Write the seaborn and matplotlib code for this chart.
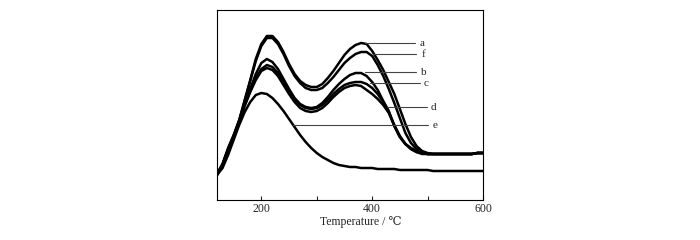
import matplotlib
matplotlib.use("Agg")
import matplotlib.pyplot as plt
import seaborn as sns
import pandas as pd
from matplotlib.ticker import MultipleLocator

# temperature grid (deg C) and signal (arbitrary units)
temps = list(range(120, 610, 10))

curve_a = [26, 36, 52, 65, 80, 100, 120, 141, 156, 164,
           164, 158, 148, 136, 126, 119, 115, 113, 113, 116,
           122, 129, 137, 145, 151, 155, 157, 156, 149, 140,
           130, 118, 106, 91, 76, 63, 54, 49, 47, 46,
           46, 46, 46, 46, 46, 46, 46, 47, 47]
curve_f = [26, 36, 51, 64, 79, 99, 119, 139, 154, 162,
           162, 156, 146, 134, 124, 117, 112, 110, 110, 112,
           117, 123, 130, 137, 142, 146, 148, 148, 144, 135,
           124, 111, 97, 82, 67, 57, 51, 48, 46, 46,
           46, 46, 46, 46, 46, 46, 46, 47, 47]
curve_b = [25, 35, 50, 63, 79, 96, 111, 126, 137, 141,
           138, 131, 121, 111, 102, 96, 93, 92, 93, 97,
           103, 110, 116, 121, 125, 127, 127, 124, 118, 110,
           99, 89, 74, 63, 56, 52, 49, 47, 46, 46,
           46, 46, 46, 46, 46, 46, 46, 47, 47]
curve_c = [25, 35, 50, 63, 79, 95, 109, 122, 131, 135,
           133, 127, 118, 109, 101, 95, 92, 91, 92, 95,
           100, 106, 111, 115, 117, 118, 118, 116, 112, 106,
           98, 88, 74, 63, 56, 51, 48, 47, 46, 46,
           46, 46, 46, 46, 46, 46, 46, 47, 47]
curve_d = [25, 35, 50, 63, 78, 94, 108, 120, 129, 132,
           130, 124, 115, 106, 98, 92, 89, 88, 89, 92,
           97, 103, 108, 112, 114, 115, 114, 110, 106, 101,
           95, 87, 75, 64, 56, 51, 48, 46, 46, 46,
           46, 46, 46, 46, 46, 46, 46, 47, 47]
curve_e = [25, 32, 45, 60, 75, 88, 98, 105, 107, 106,
           102, 96, 89, 81, 73, 65, 58, 52, 47, 43,
           40, 37, 35, 34, 33, 33, 32, 32, 32, 31,
           31, 31, 31, 30, 30, 30, 30, 30, 30, 29,
           29, 29, 29, 29, 29, 29, 29, 29, 29]

# leader lines: label, y level, start T, end T, label T
labels = ["a", "f", "b", "c", "d", "e"]
label_y = [157, 146, 128, 117, 93, 75]
line_start = [387, 402, 387, 396, 427, 258]
line_end = [477, 480, 479, 486, 499, 501]
label_x = [486, 489, 489, 493, 505, 509]

curves = {"a": curve_a, "f": curve_f, "b": curve_b,
          "c": curve_c, "d": curve_d, "e": curve_e}

if __name__ == "__main__":
    sns.set_style("white")
    plt.rcParams['font.family'] = ['Liberation Serif', 'DejaVu Serif']

    rows = []
    for name, vals in curves.items():
        for t, v in zip(temps, vals):
            rows.append({"T": t, "signal": v, "sample": name})
    df = pd.DataFrame(rows)

    fig = plt.figure(figsize=(7, 2.4), dpi=100)
    ax = fig.add_axes([217 / 700, 40 / 240, 266 / 700, 190 / 240])

    sns.lineplot(data=df, x="T", y="signal", units="sample", estimator=None,
                 color="black", linewidth=1.8, ax=ax)

    for lab, y, x0, x1, xl in zip(labels, label_y, line_start, line_end, label_x):
        ax.plot([x0, x1], [y, y], color="#444444", linewidth=0.8)
        ax.text(xl, y, lab, fontsize=8, va="center", ha="left")

    ax.set_xlim(120, 600)
    ax.set_ylim(0, 190)
    ax.set_yticks([])
    ax.set_ylabel("")
    ax.xaxis.set_major_locator(MultipleLocator(200))
    ax.xaxis.set_minor_locator(MultipleLocator(100))
    ax.tick_params(axis="x", which="both", direction="in", bottom=True, top=False,
                   labelsize=8.5, length=3, width=0.8, pad=2)
    ax.set_xlabel("Temperature / \u2103", fontsize=8.5)
    ax.xaxis.set_label_coords(0.54, -0.085)
    for s in ax.spines.values():
        s.set_color("black")
        s.set_linewidth(0.8)

    fig.savefig("out.png", dpi=100)
